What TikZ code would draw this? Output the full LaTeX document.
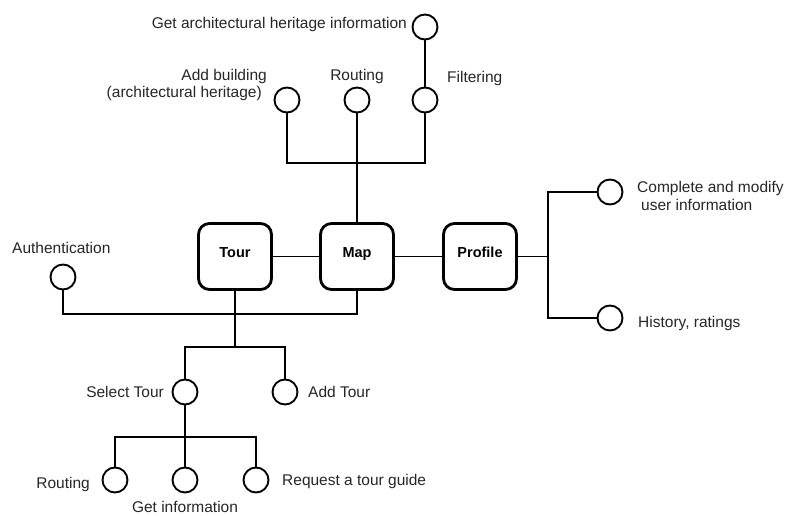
\documentclass[tikz,border=0pt]{standalone}
\usepackage{fontspec}
\setmainfont{Liberation Sans}
\begin{document}
\begin{tikzpicture}[x=1pt,y=-1pt,
 box/.style={draw, line width=2.8pt, rounded corners=11pt, minimum width=73pt, minimum height=66pt, text height=10.5pt, text depth=9.5pt, font=\bfseries\fontsize{14.5}{17}\selectfont},
 leaf/.style={draw, circle, line width=1.9pt, minimum size=25pt, inner sep=0pt},
 lbl/.style={font=\fontsize{15.5}{18}\selectfont, inner sep=0pt, text=black!85},
 conn/.style={line width=1.9pt}]
\useasboundingbox (0,0) rectangle (790,515);
% main boxes
\node[box] (tour) at (235,256.5) {Tour};
\node[box] (map) at (357,256.5) {Map};
\node[box] (profile) at (480,256.5) {Profile};
% leaves
\node[leaf] (getarch) at (425,27) {};
\node[leaf] (filter) at (425,100) {};
\node[leaf] (route1) at (357,100) {};
\node[leaf] (addb) at (287,100) {};
\node[leaf] (auth) at (63,277) {};
\node[leaf] (complete) at (610,192) {};
\node[leaf] (history) at (610,318) {};
\node[leaf] (select) at (185,392) {};
\node[leaf] (addtour) at (285,392) {};
\node[leaf] (route2) at (115,480) {};
\node[leaf] (getinfo) at (185,480) {};
\node[leaf] (request) at (256,480) {};
% labels
\node[lbl, anchor=base east] (lgetarch) at (407,28) {Get architectural heritage information};
\node[lbl, anchor=base east] (laddb1) at (267,80) {Add building};
\node[lbl, anchor=base east] (laddb2) at (262,97) {(architectural heritage)};
\node[lbl, anchor=base] (lroute1) at (357,80) {Routing};
\node[lbl, anchor=base west] (lfilter) at (447,82) {Filtering};
\node[lbl, anchor=base west] (lauth) at (12,253) {Authentication};
\node[lbl, anchor=base west] (lcomp1) at (637,192) {Complete and modify};
\node[lbl, anchor=base west] (lcomp2) at (641,210) {user information};
\node[lbl, anchor=base west] (lhist) at (638,327) {History, ratings};
\node[lbl, anchor=base east] (lselect) at (164,397) {Select Tour};
\node[lbl, anchor=base west] (laddtour) at (308,397) {Add Tour};
\node[lbl, anchor=base east] (lroute2) at (90,488) {Routing};
\node[lbl, anchor=base] (lgetinfo) at (185,512) {Get information};
\node[lbl, anchor=base west] (lrequest) at (282,485) {Request a tour guide};
% junctions
\coordinate (topj) at (357,163);
\coordinate (pj) at (548,256.5);
\coordinate (aj) at (235,314);
\coordinate (tj) at (235,347);
\coordinate (sj) at (185,437);
% connectors
\draw[conn] (map.north) -- (route1.south);
\draw[conn] (addb.south) |- (topj) -| (filter.south);
\draw[conn] (filter.north) -- (getarch.south);
\draw[conn] (tour.east) -- (map.west);
\draw[conn] (map.east) -- (profile.west);
\draw[conn] (profile.east) -- (pj);
\draw[conn] (complete.west) -| (pj) |- (history.west);
\draw[conn] (auth.south) |- (aj) -| (map.south);
\draw[conn] (tour.south) -- (tj);
\draw[conn] (select.north) |- (tj) -| (addtour.north);
\draw[conn] (select.south) -- (sj);
\draw[conn] (route2.north) |- (sj) -| (request.north);
\draw[conn] (sj) -- (getinfo.north);
\end{tikzpicture}
\end{document}
